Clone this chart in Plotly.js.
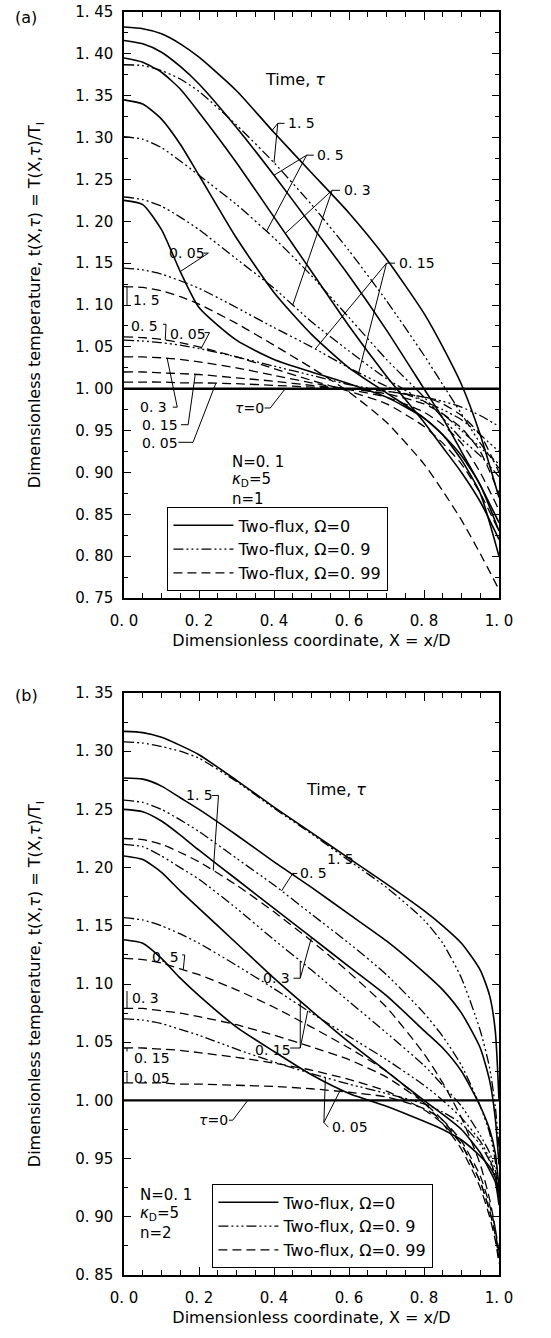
<!DOCTYPE html>
<html><head><meta charset="utf-8">
<script src="https://cdn.plot.ly/plotly-3.0.1.min.js"></script>
<style>html,body{margin:0;padding:0;background:#fff}</style>
</head><body><div id="chart" style="width:551px;height:1338px"></div>
<script>
// ---------- DATA ----------
const X_GRID_A = [0,0.05,0.1,0.15,0.2,0.3,0.4,0.5,0.6,0.7,0.8,0.85,0.9,0.95,1.0];
// panel (a), n=1 ; Omega = 0 (solid)
const A_W0_T1_5  = [1.432,1.430,1.424,1.412,1.396,1.356,1.306,1.258,1.210,1.155,1.090,1.050,1.005,0.945,0.870];
const A_W0_T0_5  = [1.416,1.412,1.402,1.385,1.364,1.312,1.255,1.195,1.135,1.070,1.000,0.965,0.925,0.885,0.840];
const A_W0_T0_3  = [1.395,1.390,1.378,1.358,1.330,1.270,1.205,1.140,1.075,1.015,0.960,0.930,0.900,0.865,0.820];
const A_W0_T0_15 = [1.345,1.340,1.322,1.292,1.255,1.180,1.115,1.065,1.025,0.995,0.965,0.945,0.915,0.875,0.800];
const A_W0_T0_05 = [1.225,1.220,1.190,1.140,1.097,1.058,1.035,1.020,1.006,0.990,0.965,0.945,0.920,0.885,0.830];
// Omega = 0.9 (dash-dot-dot)
const A_W9_T1_5  = [1.387,1.386,1.380,1.370,1.355,1.315,1.270,1.220,1.165,1.105,1.040,1.005,0.970,0.935,0.905];
const A_W9_T0_5  = [1.301,1.298,1.288,1.272,1.255,1.220,1.180,1.135,1.085,1.035,0.990,0.965,0.940,0.920,0.895];
const A_W9_T0_3  = [1.229,1.226,1.218,1.205,1.190,1.155,1.120,1.080,1.045,1.012,0.985,0.970,0.950,0.930,0.910];
const A_W9_T0_15 = [1.144,1.142,1.137,1.129,1.120,1.097,1.073,1.050,1.025,1.003,0.985,0.975,0.963,0.945,0.925];
const A_W9_T0_05 = [1.058,1.057,1.055,1.052,1.048,1.038,1.027,1.016,1.005,0.997,0.990,0.985,0.978,0.968,0.955];
// Omega = 0.99 (dashed)
const A_W99_T1_5  = [1.122,1.121,1.117,1.110,1.101,1.078,1.052,1.025,0.996,0.960,0.910,0.878,0.843,0.803,0.760];
const A_W99_T0_5  = [1.062,1.061,1.059,1.055,1.050,1.038,1.024,1.010,0.997,0.982,0.955,0.935,0.910,0.875,0.830];
const A_W99_T0_3  = [1.038,1.038,1.037,1.035,1.032,1.025,1.016,1.007,0.999,0.990,0.972,0.957,0.935,0.900,0.855];
const A_W99_T0_15 = [1.020,1.020,1.019,1.018,1.017,1.013,1.009,1.004,1.000,0.994,0.982,0.970,0.953,0.925,0.875];
const A_W99_T0_05 = [1.008,1.008,1.008,1.007,1.007,1.006,1.004,1.002,1.000,0.997,0.990,0.982,0.968,0.945,0.900];

const X_GRID_B = [0,0.05,0.1,0.15,0.2,0.3,0.4,0.5,0.6,0.7,0.8,0.85,0.9,0.95,0.975,0.99,1.0];
// panel (b), n=2 ; Omega = 0
const B_W0_T1_5  = [1.317,1.316,1.312,1.305,1.297,1.275,1.252,1.230,1.208,1.186,1.163,1.150,1.135,1.112,1.090,1.060,1.000];
const B_W0_T0_5  = [1.277,1.276,1.270,1.260,1.250,1.228,1.205,1.183,1.160,1.137,1.110,1.095,1.075,1.045,1.017,0.985,0.945];
const B_W0_T0_3  = [1.250,1.248,1.240,1.228,1.215,1.190,1.165,1.140,1.115,1.090,1.060,1.045,1.025,0.995,0.975,0.955,0.925];
const B_W0_T0_15 = [1.210,1.207,1.196,1.180,1.165,1.135,1.105,1.077,1.050,1.025,1.000,0.988,0.975,0.955,0.940,0.930,0.910];
const B_W0_T0_05 = [1.138,1.135,1.122,1.105,1.090,1.063,1.042,1.022,1.006,0.995,0.982,0.975,0.966,0.952,0.943,0.934,0.920];
// Omega = 0.9
const B_W9_T1_5  = [1.308,1.307,1.304,1.300,1.294,1.274,1.251,1.229,1.206,1.183,1.155,1.135,1.105,1.060,1.028,0.995,0.960];
const B_W9_T0_5  = [1.258,1.256,1.250,1.241,1.231,1.208,1.185,1.160,1.135,1.108,1.075,1.055,1.030,0.995,0.972,0.948,0.920];
const B_W9_T0_3  = [1.220,1.218,1.210,1.200,1.190,1.165,1.138,1.112,1.085,1.058,1.030,1.013,0.995,0.970,0.955,0.940,0.920];
const B_W9_T0_15 = [1.157,1.155,1.150,1.143,1.135,1.116,1.096,1.075,1.055,1.035,1.013,1.000,0.985,0.965,0.950,0.935,0.915];
const B_W9_T0_05 = [1.070,1.069,1.066,1.061,1.056,1.044,1.033,1.023,1.014,1.006,0.997,0.990,0.980,0.962,0.948,0.935,0.920];
// Omega = 0.99
const B_W99_T1_5  = [1.225,1.224,1.220,1.213,1.205,1.185,1.162,1.137,1.110,1.080,1.040,1.015,0.985,0.945,0.915,0.890,0.860];
const B_W99_T0_5  = [1.122,1.121,1.118,1.113,1.108,1.095,1.080,1.063,1.045,1.025,0.998,0.980,0.958,0.925,0.900,0.880,0.860];
const B_W99_T0_3  = [1.079,1.079,1.077,1.075,1.072,1.065,1.056,1.046,1.035,1.020,0.998,0.983,0.962,0.930,0.905,0.885,0.865];
const B_W99_T0_15 = [1.045,1.045,1.044,1.043,1.041,1.037,1.032,1.026,1.018,1.008,0.992,0.980,0.962,0.930,0.905,0.885,0.865];
const B_W99_T0_05 = [1.015,1.015,1.015,1.014,1.014,1.013,1.012,1.010,1.007,1.003,0.993,0.983,0.965,0.935,0.910,0.890,0.870];

const TAU0_X = [0, 1];
const TAU0_Y = [1, 1];

const X_TICKS = [0,0.2,0.4,0.6,0.8,1.0];
const X_TICKTEXT = ['0. 0','0. 2','0. 4','0. 6','0. 8','1. 0'];
const YA_TICKS = [0.75,0.80,0.85,0.90,0.95,1.00,1.05,1.10,1.15,1.20,1.25,1.30,1.35,1.40,1.45];
const YA_TICKTEXT = ['0. 75','0. 80','0. 85','0. 90','0. 95','1. 00','1. 05','1. 10','1. 15','1. 20','1. 25','1. 30','1. 35','1. 40','1. 45'];
const YB_TICKS = [0.85,0.90,0.95,1.00,1.05,1.10,1.15,1.20,1.25,1.30,1.35];
const YB_TICKTEXT = ['0. 85','0. 90','0. 95','1. 00','1. 05','1. 10','1. 15','1. 20','1. 25','1. 30','1. 35'];

const LEGEND_NAMES = ['Two-flux, Ω=0','Two-flux, Ω=0. 9','Two-flux, Ω=0. 99'];

// ---------- STYLE ----------
const FONT = 'DejaVu Sans, Verdana, sans-serif';
const STY = [
  {dash:'solid', width:1.6},
  {dash:'10px,3px,2px,3px,2px,3px,2px,3px', width:1.3},
  {dash:'9px,5px', width:1.3}
];

function interp(xs, ys, x){
  for(let i=0;i<xs.length-1;i++){
    if(x>=xs[i] && x<=xs[i+1]){const t=(x-xs[i])/(xs[i+1]-xs[i]);return ys[i]+t*(ys[i+1]-ys[i]);}
  }
  return ys[ys.length-1];
}

const traces = [];
function addPanel(xg, groups, xa, ya, leg){
  groups.forEach((g, gi)=>{
    g.forEach((ys, k)=>{
      traces.push({x:xg, y:ys, xaxis:xa, yaxis:ya, type:'scatter', mode:'lines',
        line:{color:'#000', width:STY[gi].width, dash:STY[gi].dash, shape:'spline', smoothing:0.6},
        name:LEGEND_NAMES[gi], showlegend:k===0, legend:leg, legendrank:gi+1, hoverinfo:'skip'});
    });
  });
  traces.push({x:TAU0_X, y:TAU0_Y, xaxis:xa, yaxis:ya, type:'scatter', mode:'lines',
    line:{color:'#000', width:2.4}, showlegend:false, hoverinfo:'skip'});
}
addPanel(X_GRID_A, [
  [A_W0_T1_5,A_W0_T0_5,A_W0_T0_3,A_W0_T0_15,A_W0_T0_05],
  [A_W9_T1_5,A_W9_T0_5,A_W9_T0_3,A_W9_T0_15,A_W9_T0_05],
  [A_W99_T1_5,A_W99_T0_5,A_W99_T0_3,A_W99_T0_15,A_W99_T0_05]], 'x','y','legend');
addPanel(X_GRID_B, [
  [B_W0_T1_5,B_W0_T0_5,B_W0_T0_3,B_W0_T0_15,B_W0_T0_05],
  [B_W9_T1_5,B_W9_T0_5,B_W9_T0_3,B_W9_T0_15,B_W9_T0_05],
  [B_W99_T1_5,B_W99_T0_5,B_W99_T0_3,B_W99_T0_15,B_W99_T0_05]], 'x2','y2','legend2');

// ---------- LABELS & LEADERS ----------
const LEAD_A = [
  {t:'1. 5', lx:0.432, ly:1.317, a:[0.428,1.317], j:[0.41,1.317], tips:[[A_W0_T1_5,0.395],[A_W9_T1_5,0.40]]},
  {t:'0. 5', lx:0.51, ly:1.279, a:[0.506,1.279], j:[0.487,1.279], tips:[[A_W0_T0_5,0.40],[A_W9_T0_5,0.38]]},
  {t:'0. 3', lx:0.58, ly:1.237, a:[0.576,1.237], j:[0.555,1.237], tips:[[A_W0_T0_3,0.43],[A_W9_T0_3,0.45]]},
  {t:'0. 15', lx:0.727, ly:1.15, a:[0.723,1.15], j:[0.70,1.15], tips:[[A_W9_T0_15,0.51],[A_W0_T0_15,0.625]]},
  {t:'0. 05', lx:0.115, ly:1.162, a:[0.212,1.162], j:[0.225,1.162], tips:[[A_W0_T0_05,0.15]]},
  {t:'1. 5', lx:0.018, ly:1.106, a:[0.008,1.10], j:[0.008,1.10], tips:[[A_W99_T1_5,0.008]]},
  {t:'0. 5', lx:0.012, ly:1.075, a:[0.104,1.077], j:[0.112,1.077], tips:[[A_W99_T0_5,0.11]]},
  {t:'0. 05', lx:0.118, ly:1.065, a:[0.215,1.067], j:[0.228,1.067], tips:[[A_W9_T0_05,0.205]]},
  {t:'0. 3', lx:0.037, ly:0.978, a:[0.13,0.978], j:[0.142,0.978], tips:[[A_W99_T0_3,0.115]]},
  {t:'0. 15', lx:0.043, ly:0.957, a:[0.152,0.957], j:[0.171,0.957], tips:[[A_W99_T0_15,0.19]]},
  {t:'0. 05', lx:0.043, ly:0.935, a:[0.145,0.936], j:[0.184,0.936], tips:[[A_W99_T0_05,0.245]]},
  {t:'<i>τ</i>=0', lx:0.29, ly:0.977, a:[0.375,0.977], j:[0.39,0.977], tips:[[TAU0_Y,0.43,TAU0_X]]}
];
const LEAD_B = [
  {t:'1. 5', lx:0.16, ly:1.262, a:[0.235,1.262], j:[0.252,1.262], tips:[[B_W99_T1_5,0.238]]},
  {t:'1. 5', lx:0.535, ly:1.207, tips:[]},
  {t:'0. 5', lx:0.465, ly:1.195, a:[0.462,1.195], j:[0.45,1.195], tips:[[B_W0_T0_5,0.455],[B_W9_T0_5,0.42]]},
  {t:'0. 5', lx:0.07, ly:1.123, a:[0.155,1.125], j:[0.162,1.125], tips:[[B_W99_T0_5,0.158]]},
  {t:'0. 3', lx:0.364, ly:1.105, a:[0.452,1.105], j:[0.47,1.105], tips:[[B_W9_T0_3,0.47],[B_W0_T0_3,0.5]]},
  {t:'0. 3', lx:0.015, ly:1.088, a:[0.008,1.094], j:[0.008,1.094], tips:[[B_W99_T0_3,0.008]]},
  {t:'0. 15', lx:0.345, ly:1.043, a:[0.443,1.045], j:[0.47,1.045], tips:[[B_W0_T0_15,0.47],[B_W9_T0_15,0.49]]},
  {t:'0. 15', lx:0.02, ly:1.036, a:[0.008,1.042], j:[0.008,1.042], tips:[[B_W99_T0_15,0.008]]},
  {t:'0. 05', lx:0.02, ly:1.019, a:[0.008,1.024], j:[0.008,1.024], tips:[[B_W99_T0_05,0.008]]},
  {t:'<i>τ</i>=0', lx:0.195, ly:0.983, a:[0.28,0.983], j:[0.29,0.983], tips:[[TAU0_Y,0.33,TAU0_X]]},
  {t:'0. 05', lx:0.55, ly:0.977, a:[0.545,0.977], j:[0.533,0.981], tips:[[B_W9_T0_05,0.537],[B_W0_T0_05,0.578]]}
];

const annotations = [];
const shapes = [];
function addLeaders(list, xg, xr, yr){
  list.forEach(L=>{
    annotations.push({xref:xr, yref:yr, x:L.lx, y:L.ly, text:L.t, showarrow:false, xanchor:'left', yanchor:'middle',
      font:{family:FONT, size:14, color:'#000'}});
    L.tips.forEach((tp,i)=>{
      const ty = interp(tp[2]||xg, tp[0], tp[1]);
      const p = i===0 ? `M ${L.a[0]},${L.a[1]} L ${L.j[0]},${L.j[1]} L ${tp[1]},${ty}` : `M ${L.j[0]},${L.j[1]} L ${tp[1]},${ty}`;
      shapes.push({type:'path', xref:xr, yref:yr, path:p, line:{color:'#000', width:1}});
    });
  });
}
addLeaders(LEAD_A, X_GRID_A, 'x','y');
addLeaders(LEAD_B, X_GRID_B, 'x2','y2');

function txt(xr,yr,x,y,t,anchor,size){
  annotations.push({xref:xr,yref:yr,x:x,y:y,text:t,showarrow:false,xanchor:anchor||'left',yanchor:'middle',
    font:{family:FONT,size:size||15,color:'#000'}});
}
txt('x','y',0.456,1.369,'Time, <i>τ</i>','center',16);
txt('x2','y2',0.564,1.267,'Time, <i>τ</i>','center',16);
txt('x','y',0.283,0.913,'N=0. 1');
txt('x','y',0.283,0.891,'<i>κ</i><sub>D</sub>=5');
txt('x','y',0.283,0.868,'n=1');
txt('x2','y2',0.037,0.919,'N=0. 1');
txt('x2','y2',0.037,0.903,'<i>κ</i><sub>D</sub>=5');
txt('x2','y2',0.037,0.886,'n=2');
txt('paper','paper',-0.296,0.996,'(a)','left',16);
txt('paper','paper',-0.296,0.4592,'(b)','left',16);

function xax(anchor){
  return {anchor:anchor, domain:[0,1], range:[0,1], tickvals:X_TICKS, ticktext:X_TICKTEXT, ticks:'inside', ticklen:8,
    tickwidth:1, tickcolor:'#000', mirror:'allticks', showline:true, linecolor:'#000', linewidth:1.6, showgrid:false, zeroline:false,
    minor:{dtick:0.05, tick0:0, ticks:'inside', ticklen:5, tickcolor:'#000', showgrid:false},
    tickfont:{family:FONT,size:15,color:'#000'}, ticklabelstandoff:8,
    title:{text:'Dimensionless coordinate, X = x/D', font:{family:FONT,size:16,color:'#000'}, standoff:6}};
}
function yax(anchor, dom, rng, tv, tt){
  return {anchor:anchor, domain:dom, range:rng, tickvals:tv, ticktext:tt, ticks:'inside', ticklen:7, tickwidth:1, tickcolor:'#000',
    mirror:'allticks', showline:true, linecolor:'#000', linewidth:1.6, showgrid:false, zeroline:false,
    minor:{dtick:0.025, tick0:0, ticks:'inside', ticklen:4, tickcolor:'#000', showgrid:false},
    tickfont:{family:FONT,size:15,color:'#000'}, ticklabelstandoff:6,
    title:{text:'Dimensionless temperature, t(X,<i>τ</i>) = T(X,<i>τ</i>)/T<sub>I</sub>', font:{family:FONT,size:16,color:'#000'}, standoff:30}};
}
const layout = {
  width:551, height:1338, margin:{l:124, r:52, t:12, b:63},
  paper_bgcolor:'#fff', plot_bgcolor:'#fff', font:{family:FONT, size:15, color:'#000'},
  xaxis: xax('y'), yaxis: yax('x',[0.536,1],[0.75,1.45],YA_TICKS,YA_TICKTEXT),
  xaxis2: xax('y2'), yaxis2: yax('x2',[0,0.4608],[0.85,1.35],YB_TICKS,YB_TICKTEXT),
  legend:{x:0.115, y:0.608, xanchor:'left', yanchor:'top', bgcolor:'#fff', bordercolor:'#000', borderwidth:1.3,
    font:{family:FONT,size:16,color:'#000'}, tracegroupgap:0, itemwidth:60, traceorder:'normal'},
  legend2:{x:0.235, y:0.072, xanchor:'left', yanchor:'top', bgcolor:'#fff', bordercolor:'#000', borderwidth:1.3,
    font:{family:FONT,size:16,color:'#000'}, tracegroupgap:0, itemwidth:60, traceorder:'normal'},
  showlegend:true, annotations:annotations, shapes:shapes
};
Plotly.newPlot('chart', traces, layout, {displayModeBar:false, staticPlot:true});
</script></body></html>
